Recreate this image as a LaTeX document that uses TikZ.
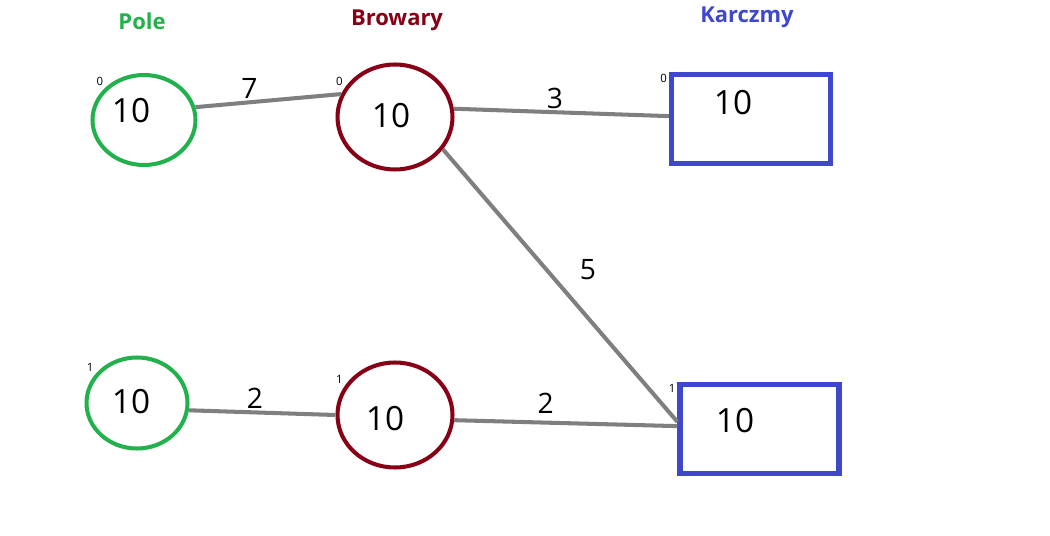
\documentclass[tikz,border=0pt]{standalone}
\usepackage{fontspec}
\setmainfont{Open Sans}
\usepackage{tikz}
\usetikzlibrary{shapes.geometric, positioning}
\definecolor{polegreen}{RGB}{34,177,76}
\definecolor{browred}{RGB}{136,0,21}
\definecolor{karblue}{RGB}{63,72,204}
\definecolor{roadgray}{RGB}{127,127,127}
\tikzset{
	field/.style={ellipse, draw=polegreen, line width=2.3pt, inner sep=0pt},
	brewery/.style={ellipse, draw=browred, line width=2.3pt, inner sep=0pt, minimum width=2.3cm, minimum height=2.1cm},
	tavern/.style={rectangle, draw=karblue, line width=3pt, inner sep=0pt, minimum width=3.18cm, minimum height=1.78cm},
	road/.style={draw=roadgray, line width=2.3pt},
	cost/.style={font=\fontsize{16}{18}\selectfont, inner sep=1pt},
	val/.style={font=\fontsize{19}{22}\selectfont, inner sep=0pt},
	idx/.style={font=\fontsize{6.5}{7}\selectfont, inner sep=1pt},
	head/.style={font=\fontsize{12.5}{14}\selectfont\bfseries},
}
\begin{document}
\begin{tikzpicture}[x=0.02cm, y=-0.02cm]
		
		% fix the page size
		\useasboundingbox (0,0) rectangle (1050,536);
		
		% column headings
		\node[head, text=polegreen] (hpole) at (142,21) {Pole};
		\node[head, text=browred] (hbrow) at (397,20) {Browary};
		\node[head, text=karblue] (hkarc) at (747,17) {Karczmy};
		
		% fields
		\node[field, minimum width=2.06cm, minimum height=1.8cm,
			label={[idx]140:0}, label={[val, xshift=-0.26cm, yshift=0.18cm]center:10}] (p0) at (144,120) {};
		\node[field, minimum width=2.02cm, minimum height=1.82cm,
			label={[idx]145:1}, label={[val, xshift=-0.12cm, yshift=0.02cm]center:10}] (p1) at (137,403) {};
		
		% breweries
		\node[brewery, label={[idx]150:0}, label={[val, xshift=-0.08cm, yshift=0.02cm]center:10}] (b0) at (395,117) {};
		\node[brewery, label={[idx]150:1}, label={[val, xshift=-0.2cm, yshift=-0.08cm]center:10}] (b1) at (395,415) {};
		
		% taverns
		\node[tavern, label={[idx, anchor=north east]north west:0},
			label={[val, xshift=-0.36cm, yshift=0.32cm]center:10}] (k0) at (751,119) {};
		\node[tavern, label={[idx, anchor=north east]north west:1},
			label={[val, xshift=-0.49cm, yshift=0.16cm]center:10}] (k1) at (759.5,429) {};
		
		% roads with their costs
		\draw[road] (p0.14) -- node[cost, pos=0.37, above] {7} (b0.157);
		\draw[road] (b0.8) -- node[cost, pos=0.47, above] {3} (k0.178);
		\draw[road] (b0.-34) -- node[cost, pos=0.44, right=0.6cm] {5} (k1.175);
		\draw[road] (p1.-8) -- node[cost, pos=0.45, above] {2} (b1.west);
		\draw[road] (b1.-5) -- node[cost, pos=0.41, above, yshift=0.1cm] {2} (k1.178);
		
\end{tikzpicture}
\end{document}
